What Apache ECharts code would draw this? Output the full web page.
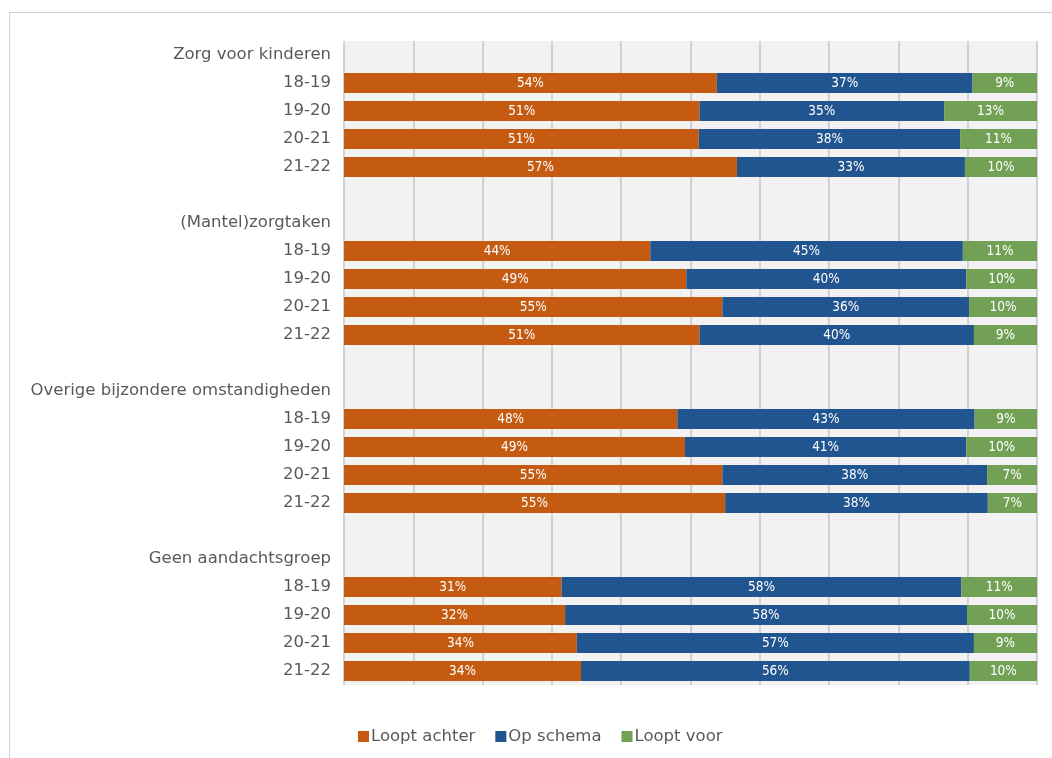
<!DOCTYPE html>
<html>
<head>
<meta charset="utf-8">
<title>Voortgang per aandachtsgroep</title>
<script src="https://cdn.jsdelivr.net/npm/echarts@6/dist/echarts.min.js"></script>
<style>
  html, body { margin: 0; padding: 0; background: #fff; }
  #chart { width: 1052px; height: 758px; }
</style>
</head>
<body>
<div id="chart"></div>
<script>
// data, shares in percent
var groups = ['Zorg voor kinderen', '(Mantel)zorgtaken', 'Overige bijzondere omstandigheden', 'Geen aandachtsgroep'];
var years = ['18-19', '19-20', '20-21', '21-22'];
var seriesNames = ['Loopt achter', 'Op schema', 'Loopt voor'];

var looptAchter = [
    [53.8, 51.3, 51.2, 56.7],
    [44.2, 49.4, 54.6, 51.3],
    [48.1, 49.2, 54.6, 55.0],
    [31.4, 31.9, 33.6, 34.2]
];
var opSchema = [
    [36.9, 35.3, 37.7, 32.9],
    [45.1, 40.4, 35.6, 39.6],
    [42.9, 40.6, 38.2, 37.9],
    [57.7, 58.0, 57.3, 56.1]
];
var looptVoor = [
    [9.3, 13.4, 11.1, 10.4],
    [10.7, 10.2, 9.8, 9.1],
    [9.0, 10.2, 7.2, 7.1],
    [10.9, 10.1, 9.1, 9.7]
];

(function() {
    var orange = '#c55a11';
    var blue = '#215590';
    var green = '#72a055';
    var text = '#595959';

    // rows: group header, four years, blank spacer (not after last group)
    var categories = [];
    var rows = [[], [], []];
    var sources = [looptAchter, opSchema, looptVoor];
    groups.forEach(function(g, gi) {
        categories.push(g);
        rows.forEach(function(r) { r.push(null); });
        years.forEach(function(y, yi) {
            categories.push(g + '|' + y);
            rows.forEach(function(r, si) { r.push(sources[si][gi][yi]); });
        });
        if (gi < groups.length - 1) {
            categories.push('blank' + gi);
            rows.forEach(function(r) { r.push(null); });
        }
    });

    var colors = [orange, blue, green];
    var series = seriesNames.map(function(name, i) {
        return {
            name: name,
            type: 'bar',
            stack: 'total',
            barWidth: 20,
            data: rows[i],
            itemStyle: { color: colors[i] },
            label: {
                show: true,
                position: 'inside',
                color: '#ffffff',
                fontFamily: 'DejaVu Sans Condensed',
                fontSize: 13.5,
                formatter: function(p) { return Math.round(p.value) + '%'; }
            }
        };
    });

    var chart = echarts.init(document.getElementById('chart'), null, { renderer: 'canvas' });

    var option = {
        animation: false,
        color: colors,
        graphic: [{
            type: 'rect',
            left: 7,
            top: 10,
            shape: { width: 1100, height: 800 },
            style: { fill: 'none', stroke: '#d0d0d0', lineWidth: 1 },
            silent: true
        }],
        grid: {
            left: 344,
            right: 15,
            top: 41,
            bottom: 73,
            show: true,
            backgroundColor: '#f2f2f2',
            borderWidth: 0
        },
        legend: {
            left: 353,
            top: 723,
            icon: 'rect',
            itemWidth: 11,
            itemHeight: 11,
            itemGap: 20,
            textStyle: { color: text, fontFamily: 'DejaVu Sans', fontSize: 16.5, padding: [0, 0, 0, -3] },
            data: seriesNames
        },
        xAxis: {
            type: 'value',
            min: 0,
            max: 100,
            interval: 10,
            axisLabel: { show: false },
            axisLine: { show: false },
            axisTick: { show: false },
            splitLine: { show: true, lineStyle: { color: '#c4c4c4', width: 1.5 } }
        },
        yAxis: {
            type: 'category',
            inverse: true,
            data: categories,
            axisLine: { show: false },
            axisTick: { show: false },
            axisLabel: {
                color: text,
                fontFamily: 'DejaVu Sans',
                fontSize: 16.5,
                margin: 13,
                interval: 0,
                formatter: function(v) {
                    if (v.indexOf('blank') === 0) return '';
                    var parts = v.split('|');
                    return parts.length > 1 ? parts[1] : parts[0];
                }
            }
        },
        series: series
    };

    chart.setOption(option);
    window.addEventListener('resize', function() {
        chart.resize();
    });
})();
</script>
</body>
</html>
